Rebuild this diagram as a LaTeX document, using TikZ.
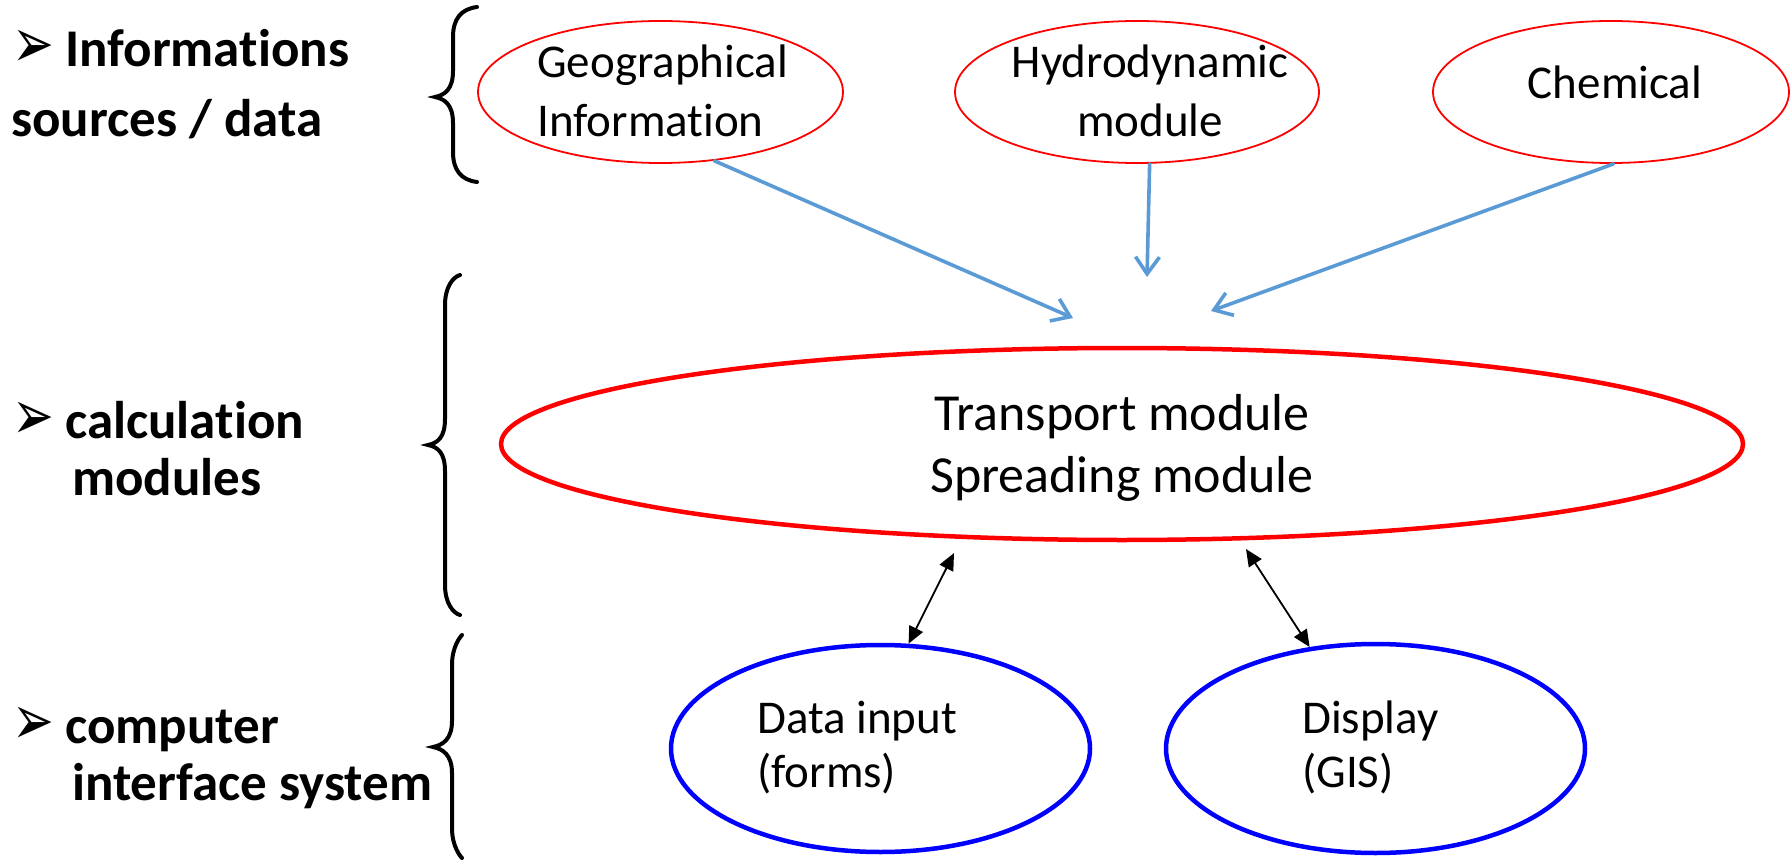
\documentclass[tikz,border=0pt]{standalone}
\usepackage{fontspec}
\usepackage{graphicx}
\setmainfont{Carlito}[Ligatures=NoCommon]
\newfontfamily\dejavu{DejaVu Sans}
\usetikzlibrary{shapes.geometric,arrows.meta}
\tikzset{
  redthin/.style={ellipse, draw=red, line width=1.8pt, inner sep=0pt},
  redthick/.style={ellipse, draw=red, line width=4.5pt, inner sep=0pt},
  bluethick/.style={ellipse, draw=blue, line width=4.5pt, inner sep=0pt},
  lbl/.style={anchor=base west, inner sep=0pt, font=\fontsize{53}{62}\selectfont\bfseries},
  bul/.style={anchor=base west, inner sep=0pt, font=\fontsize{50}{62}\selectfont\dejavu},
  smalltxt/.style={inner sep=0pt, font=\fontsize{47}{56}\selectfont},
  bigtxt/.style={anchor=base, inner sep=0pt, font=\fontsize{52}{62}\selectfont},
  bluearr/.style={draw={rgb,255:red,91;green,155;blue,213}, line width=3.6pt, line cap=round,
    -{Straight Barb[length=17pt,width=24pt,line width=3.6pt]}},
  dblarr/.style={draw=black, line width=1.8pt, {Triangle[length=17pt,width=15pt]}-{Triangle[length=17pt,width=15pt]}},
  bracestyle/.style={draw=black, line width=4pt, line cap=round}
}
\newcommand\drawbrace[6]{%
  \draw[bracestyle] (#1,#4) .. controls ({#2+8},{#4+2}) and (#2,{#4+12}) .. (#2,{#4+30})
    -- (#2,{#5-26}) .. controls (#2,{#5-8}) and ({#3+10},{#5-2}) .. (#3,#5)
    .. controls ({#3+10},{#5+2}) and (#2,{#5+8}) .. (#2,{#5+26})
    -- (#2,{#6-30}) .. controls (#2,{#6-12}) and ({#2+8},{#6-2}) .. (#1,#6);}
\newcommand\bulletarrow{\scalebox{1}[1.4]{➢}}
\begin{document}
\begin{tikzpicture}[x=1pt,y=-1pt]
\useasboundingbox (0,0) rectangle (1791,861);

% left labels
\node[bul] (b1) at (12,68) {\bulletarrow};
\node[lbl] (l1a) at (65,67) {Informations};
\node[lbl] (l1b) at (11,137) {sources / data};
\node[bul] (b2) at (12,439) {\bulletarrow};
\node[lbl] (l2a) at (65,438) {calculation};
\node[lbl] (l2b) at (72,495) {modules};
\node[bul] (b3) at (12,744) {\bulletarrow};
\node[lbl] (l3a) at (65,743) {computer};
\node[lbl] (l3b) at (72,800) {interface system};

% braces
\drawbrace{477}{453}{435}{7}{97}{182}
\drawbrace{460}{445}{428}{275}{445}{615}
\drawbrace{462}{452}{433}{635}{747}{858}

% ellipses
\node[redthin, minimum width=365pt, minimum height=142pt] (geo) at (660.5,92) {};
\node[redthin, minimum width=364pt, minimum height=142pt] (hyd) at (1137,92) {};
\node[redthin, minimum width=356pt, minimum height=142pt] (chem) at (1611,92) {};
\node[redthick, minimum width=1242pt, minimum height=192pt] (trans) at (1122,444) {};
\node[bluethick, minimum width=419pt, minimum height=207pt] (inp) at (880.5,748.5) {};
\node[bluethick, minimum width=419pt, minimum height=209pt] (disp) at (1375.5,748.5) {};

% texts
\node[smalltxt, anchor=base west] (geot1) at (537,78) {Geographical};
\node[smalltxt, anchor=base west] (geot2) at (537,137) {Information};
\node[smalltxt, anchor=base] (hydt1) at (1150,78) {Hydrodynamic};
\node[smalltxt, anchor=base] (hydt2) at (1150,137) {module};
\node[smalltxt, anchor=base] (chemt) at (1615,99) {Chemical};
\node[bigtxt] (trt1) at (1122,430) {Transport module};
\node[bigtxt] (trt2) at (1122,492) {Spreading module};
\node[smalltxt, anchor=base west] (inpt1) at (757,733) {Data input};
\node[smalltxt, anchor=base west] (inpt2) at (757,787) {(forms)};
\node[smalltxt, anchor=base west] (dispt1) at (1302,733) {Display};
\node[smalltxt, anchor=base west] (dispt2) at (1302,787) {(GIS)};

% blue arrows
\coordinate (ge) at (1073,318);
\coordinate (he) at (1147,277);
\coordinate (ce) at (1211,311);
\draw[bluearr] (geo.-52) -- (ge);
\draw[bluearr] (hyd.-80) -- (he);
\draw[bluearr] (chem.-88) -- (ce);

% double arrows
\coordinate (tl) at (954,553);
\coordinate (tr) at (1246,549);
\draw[dblarr] (tl) -- (inp.75);
\draw[dblarr] (tr) -- (disp.123);
\end{tikzpicture}
\end{document}
